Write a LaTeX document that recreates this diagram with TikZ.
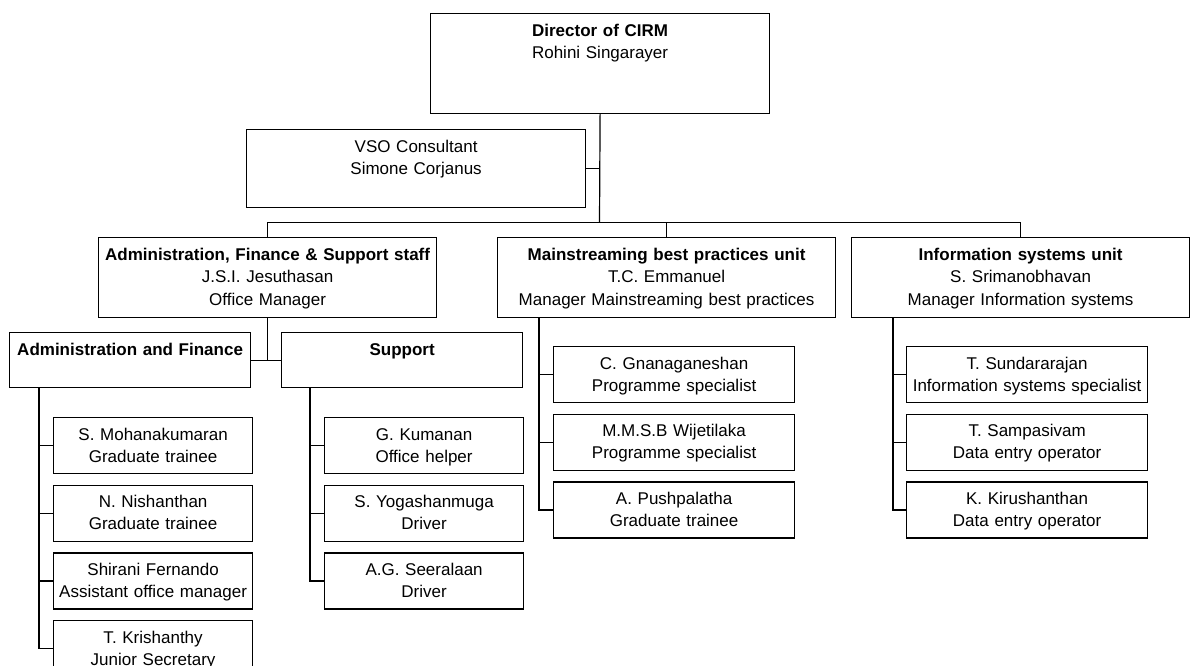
\documentclass[tikz,border=0pt]{standalone}
\usepackage{fontspec}
\setmainfont{Liberation Sans}
\usetikzlibrary{positioning}

\begin{document}
\begin{tikzpicture}[x=1pt,y=-1pt,line width=1.2pt,node distance=10.5pt,
    box/.style={draw, inner sep=0pt, anchor=north west, align=center,
        text height=22.5pt, font=\fontsize{17pt}{22.5pt}\selectfont},
    unitbox/.style={box, text width=338pt, text depth=57.5pt},
    groupbox/.style={box, text width=241pt, text depth=32.5pt},
    staffbox/.style={box, text width=199pt, text depth=33.5pt,
        font=\fontsize{17pt}{22pt}\selectfont},
    rolebox/.style={box, text width=241pt, text depth=33.5pt,
        font=\fontsize{17pt}{22pt}\selectfont}]

\useasboundingbox (0,0) rectangle (1191,666);

%% top

\node[box, text width=339pt, text depth=77.5pt] (dir) at (430,13)
    {\textbf{Director of CIRM}\\Rohini Singarayer};
\node[box, text width=339pt, text depth=55.5pt] (vso) at (246,129)
    {VSO Consultant\\Simone Corjanus};

% units
\node[unitbox] (admin) at (98,237)
    {\textbf{Administration, Finance \& Support staff}\\J.S.I. Jesuthasan\\Office Manager};
\node[unitbox] (mbp) at (497,237)
    {\textbf{Mainstreaming best practices unit}\\T.C. Emmanuel\\Manager Mainstreaming best practices};
\node[unitbox] (isu) at (851,237)
    {\textbf{Information systems unit}\\S. Srimanobhavan\\Manager Information systems};

\node[groupbox] (af) at (9,332) {\textbf{Administration and Finance}};
\node[groupbox] (sup) at (281,332) {\textbf{Support}};

%% staff

% Administration and Finance
\node[staffbox] (af1) at (53,417) {S. Mohanakumaran\\Graduate trainee};
\node[staffbox, below=of af1] (af2) {N. Nishanthan\\Graduate trainee};
\node[staffbox, below=of af2] (af3) {Shirani Fernando\\Assistant office manager};
\node[staffbox, below=of af3] (af4) {T. Krishanthy\\Junior Secretary};

% Support
\node[staffbox] (sup1) at (324,417) {G. Kumanan\\Office helper};
\node[staffbox, below=of sup1] (sup2) {S. Yogashanmuga\\Driver};
\node[staffbox, below=of sup2] (sup3) {A.G. Seeralaan\\Driver};

% Mainstreaming
\node[rolebox] (mbp1) at (553,346) {C. Gnanaganeshan\\Programme specialist};
\node[rolebox, below=of mbp1] (mbp2) {M.M.S.B Wijetilaka\\Programme specialist};
\node[rolebox, below=of mbp2] (mbp3) {A. Pushpalatha\\Graduate trainee};

% Information systems
\node[rolebox] (isu1) at (906,346) {T. Sundararajan\\Information systems specialist};
\node[rolebox, below=of isu1] (isu2) {T. Sampasivam\\Data entry operator};
\node[rolebox, below=of isu2] (isu3) {K. Kirushanthan\\Data entry operator};

%% lines

\coordinate (bus) at (599.5,222.5);
\draw (dir.south) -- (bus);
\draw (vso.east) -- (vso.east -| bus);
\draw (admin.north) |- (isu.north |- bus) -- (isu.north);
\draw (mbp.north) -- (mbp.north |- bus);

\draw (admin.south) |- (af.east);
\draw (sup.west) -- (sup.west -| admin.south);

\coordinate (aft) at ([xshift=30pt]af.south west);
\coordinate (supt) at ([xshift=29pt]sup.south west);
\coordinate (mbpt) at ([xshift=42pt]mbp.south west);
\coordinate (isut) at ([xshift=42pt]isu.south west);

% trunks
\draw (aft) |- (af4.west);
\draw (supt) |- (sup3.west);
\draw (mbpt) |- (mbp3.west);
\draw (isut) |- (isu3.west);

\foreach \c in {af1,af2,af3} \draw (aft |- \c.west) -- (\c.west);
\foreach \c in {sup1,sup2} \draw (supt |- \c.west) -- (\c.west);
\foreach \c in {mbp1,mbp2} \draw (mbpt |- \c.west) -- (\c.west);
\foreach \c in {isu1,isu2} \draw (isut |- \c.west) -- (\c.west);

\end{tikzpicture}
\end{document}
